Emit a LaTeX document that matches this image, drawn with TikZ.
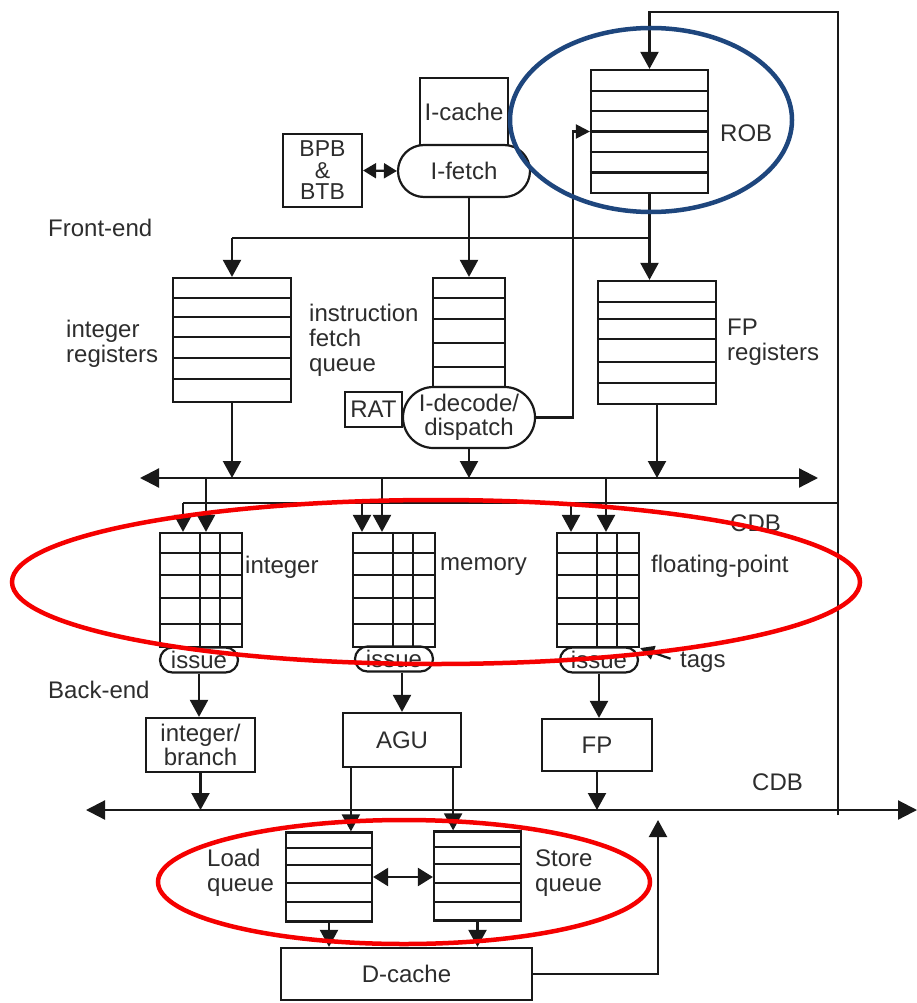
\documentclass[tikz,border=0pt]{standalone}
\usepackage{fontspec}
\setmainfont{Liberation Sans}
\usetikzlibrary{arrows.meta,calc,shapes.misc}
\definecolor{txt}{RGB}{45,45,45}
\definecolor{ink}{RGB}{25,25,25}
\definecolor{hlred}{RGB}{245,0,0}
\definecolor{hlblue}{RGB}{30,70,125}
\tikzset{
  blk/.style={draw=ink, line width=2.2pt, inner sep=0pt, align=center,
    font=\fontsize{24}{25}\selectfont, text=txt},
  pill/.style={blk, rounded rectangle},
  lbl/.style={inner sep=0pt, font=\fontsize{24}{25}\selectfont, text=txt, align=left, anchor=west},
  wire/.style={draw=ink, line width=2.2pt},
  arr/.style={wire, -{Triangle[width=18pt,length=17pt]}},
  sarr/.style={wire, -{Triangle[width=14pt,length=14pt]}},
  busarr/.style={wire, {Triangle[width=19pt,length=19pt]}-{Triangle[width=19pt,length=19pt]}},
  dblarr/.style={wire, {Triangle[width=15pt,length=13pt]}-{Triangle[width=15pt,length=13pt]}},
  bigdbl/.style={wire, {Triangle[width=18pt,length=15pt]}-{Triangle[width=18pt,length=15pt]}},
  hl/.style={line width=4.5pt}
}
\begin{document}
\begin{tikzpicture}[x=1pt,y=-1pt]
\useasboundingbox[fill=white] (0,0) rectangle (917,1003);

% ---------- front end ----------
\node[blk, minimum width=88pt, minimum height=67pt] (icache) at (464,111.5) {I-cache};
\node[pill, minimum width=132pt, minimum height=52pt] (ifetch) at (464,171) {I-fetch};
\node[blk, minimum width=79pt, minimum height=73pt, font=\fontsize{23}{21.5}\selectfont] (bpb) at (322.5,170.5) {BPB\\\&\\BTB};
\draw[dblarr] (bpb.east) -- (ifetch.west);

\node[blk, minimum width=117pt, minimum height=123pt] (rob) at (649.5,131.5) {};
\foreach \yy in {91,111,131.5,152,172.5} \draw[wire] (rob.west |- 0,\yy) -- (rob.east |- 0,\yy);
\node[lbl] (roblbl) at (720,133) {ROB};

\node[lbl] (frontend) at (48,228) {Front-end};

\node[blk, minimum width=118pt, minimum height=124pt] (intreg) at (232,340) {};
\foreach \yy in {298,317,337,358,379} \draw[wire] (intreg.west |- 0,\yy) -- (intreg.east |- 0,\yy);
\node[lbl] (intreglbl) at (66,344) {integer\\registers};

\node[blk, minimum width=72pt, minimum height=109pt] (ifq) at (469,332.5) {};
\foreach \yy in {298,319,343,367} \draw[wire] (ifq.west |- 0,\yy) -- (ifq.east |- 0,\yy);
\node[lbl] (ifqlbl) at (309,340) {instruction\\fetch\\queue};

\node[pill, minimum width=132pt, minimum height=61pt, font=\fontsize{24}{24}\selectfont] (idec) at (469,417.5) {I-decode/\\dispatch};
\node[blk, minimum width=57pt, minimum height=35pt] (rat) at (373.5,409.5) {RAT};

\node[blk, minimum width=118pt, minimum height=123pt] (fpreg) at (657,342.5) {};
\foreach \yy in {302,319,339,362,383} \draw[wire] (fpreg.west |- 0,\yy) -- (fpreg.east |- 0,\yy);
\node[lbl] (fpreglbl) at (727,342) {FP\\registers};

% front-end wiring
\coordinate (fe) at (0,238);
\coordinate (robfeed) at (573,0);
\coordinate (fbTR) at (838,12);
\coordinate (fbB) at (838,815);
\draw[wire] (rob.south) -- (rob.south |- fe);
\draw[wire] (intreg.north |- fe) -- (rob.south |- fe);
\draw[arr] (intreg.north |- fe) -- (intreg.north);
\draw[arr] (ifq.north |- ifetch.south) -- (ifq.north);
\draw[arr] (rob.south |- fe) -- (rob.south |- fpreg.north);
\draw[sarr] (idec.east) -- (idec.east -| robfeed) |- (rob.west);
\draw[arr] (fbB) -- (fbTR) -| (rob.north);

% upper bus
\coordinate (busL) at (140,478);
\coordinate (busR) at (818,478);
\draw[busarr] (busL) -- (busR);
\draw[arr] (intreg.south) -- (intreg.south |- busL);
\draw[arr] (idec.south) -- (idec.south |- busL);
\draw[arr] (fpreg.south) -- (fpreg.south |- busL);

% second CDB line
\coordinate (cdbL) at (183,503);
\coordinate (cdbR) at (838,503);
\draw[wire] (cdbL) -- (cdbR);
\node[lbl] (cdb1) at (730,523) {CDB};

% ---------- reservation stations ----------
\foreach \nm/\cx in {irs/201, mrs/394, frs/598}{
  \node[blk, minimum width=82pt, minimum height=114pt] (\nm) at (\cx,590) {};
  \foreach \yy in {553,575,598,624} \draw[wire] (\nm.west |- 0,\yy) -- (\nm.east |- 0,\yy);
  \draw[wire] ($(\nm.north west)+(41,0)$) -- ($(\nm.south west)+(41,0)$);
  \draw[wire] ($(\nm.north west)+(61,0)$) -- ($(\nm.south west)+(61,0)$);
}
\node[lbl] (irslbl) at (245,567) {integer};
\node[lbl] (mrslbl) at (440,567) {memory};
\node[lbl] (frslbl) at (651,566) {floating-point};

% inputs from second CDB line
\coordinate (c2a) at (183,503);
\coordinate (c2b) at (362,503);
\coordinate (c2c) at (571,503);
\draw[arr] (c2a) -- (c2a |- irs.north);
\draw[arr] (c2b) -- (c2b |- mrs.north);
\draw[arr] (c2c) -- (c2c |- frs.north);
% inputs from bus
\coordinate (b1) at (206,478);
\coordinate (b2) at (382,478);
\coordinate (b3) at (606,478);
\draw[arr] (b1) -- (b1 |- irs.north);
\draw[arr] (b2) -- (b2 |- mrs.north);
\draw[arr] (b3) -- (b3 |- frs.north);

% issue logic
\node[pill, minimum width=78pt, minimum height=25pt] (iiss) at (199,660) {issue};
\node[pill, minimum width=78pt, minimum height=25pt] (miss) at (394,659) {issue};
\node[pill, minimum width=78pt, minimum height=25pt] (fiss) at (599,660) {issue};
\node[lbl] (tags) at (680,662) {tags};
\draw[sarr, shorten <=10pt] (tags.west) -- (frs.south east);

\node[lbl] (backend) at (48,690) {Back-end};

% functional units
\node[blk, minimum width=109pt, minimum height=54pt, font=\fontsize{24}{22}\selectfont] (intbr) at (200.5,745) {integer/\\branch};
\node[blk, minimum width=118pt, minimum height=54pt] (agu) at (402,740) {AGU};
\node[blk, minimum width=110pt, minimum height=52pt] (fpu) at (597,745) {FP};
\draw[arr] (iiss.south) -- (iiss.south |- intbr.north);
\draw[arr] (agu.north |- miss.south) -- (agu.north);
\draw[arr] (fiss.south) -- (fiss.south |- fpu.north);

% lower bus
\coordinate (lbL) at (86,810);
\coordinate (lbR) at (917,810);
\draw[busarr] (lbL) -- (lbR);
\node[lbl] (cdb2) at (752,782) {CDB};
\draw[arr] (intbr.south) -- (intbr.south |- lbL);
\draw[arr] (fpu.south) -- (fpu.south |- lbL);

% load / store queues
\node[blk, minimum width=86pt, minimum height=89pt] (lq) at (329,877) {};
\foreach \yy in {848,865,883,902} \draw[wire] (lq.west |- 0,\yy) -- (lq.east |- 0,\yy);
\node[blk, minimum width=87pt, minimum height=89pt] (sq) at (477.5,876) {};
\foreach \yy in {847,864,883,902} \draw[wire] (sq.west |- 0,\yy) -- (sq.east |- 0,\yy);
\node[lbl] (lqlbl) at (207,873) {Load\\queue};
\node[lbl] (sqlbl) at (535,873) {Store\\queue};
\draw[bigdbl] (lq.east) -- (lq.east -| sq.west);

\path (agu.south west) ++(9,0) coordinate (ao1);
\path (agu.south east) ++(-9,0) coordinate (ao2);
\draw[arr] (ao1) -- (ao1 |- lq.north);
\draw[arr] (ao2) -- (ao2 |- sq.north);

\node[blk, minimum width=251pt, minimum height=52pt] (dc) at (406.5,974) {D-cache};
\draw[arr] (lq.south) -- (lq.south |- dc.north);
\draw[arr] (sq.south) -- (sq.south |- dc.north);
\coordinate (dcup) at (658,820);
\draw[arr] (dc.east) -| (dcup);

% ---------- highlight ellipses ----------
\draw[hl, hlred] (436,582) ellipse [x radius=424, y radius=82];
\draw[hl, hlred] (404,882) ellipse [x radius=246, y radius=62];
\draw[hl, hlblue] (651,120) ellipse [x radius=141, y radius=92];
\end{tikzpicture}
\end{document}
